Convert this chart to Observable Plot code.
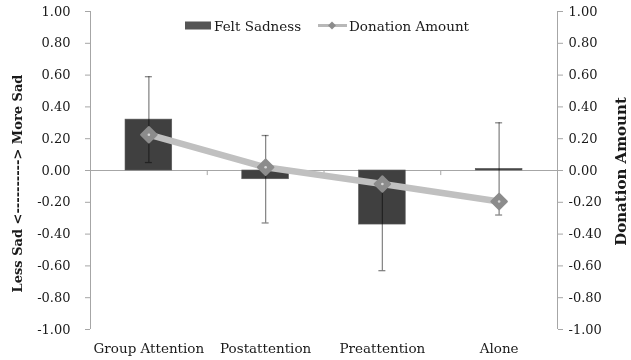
<!DOCTYPE html>
<html>
<head>
<meta charset="utf-8">
<script src="https://cdn.jsdelivr.net/npm/d3@7"></script>
<script src="https://cdn.jsdelivr.net/npm/@observablehq/plot@0.6"></script>
<style>
  html, body { margin: 0; padding: 0; background: #fff; }
  #wrap { position: relative; width: 631px; height: 360px; font-family: "DejaVu Serif", serif; }
  #legend { position: absolute; left: 0; top: 0; }
</style>
</head>
<body>
<div id="wrap"></div>
<script>
// ---- data ----
const categories = ["Group Attention", "Postattention", "Preattention", "Alone"];
const sadness    = [0.32, -0.055, -0.34, 0.01];
const sadLow     = [0.05, -0.33, -0.63, -0.28];
const sadHigh    = [0.59, 0.22, -0.05, 0.30];
const donation   = [0.225, 0.02, -0.085, -0.195];
const yTicks     = [-1, -0.8, -0.6, -0.4, -0.2, 0, 0.2, 0.4, 0.6, 0.8, 1];
const seriesNames = ["Felt Sadness", "Donation Amount"];
const leftTitle  = "Less Sad <----------> More Sad";
const rightTitle = "Donation Amount";

const rows = categories.map((c, i) => ({
  i, c, s: sadness[i], lo: sadLow[i], hi: sadHigh[i], d: donation[i]
}));
const boundaries = categories.slice(1).map((_, k) => k + 0.5);
const xDomain = [-0.5, categories.length - 0.5];

const barHalf = 0.2;
const capHalf = 0.03;
const axisGray = "#a6a6a6";
const textColor = "#1a1a1a";

const chart = Plot.plot({
  width: 631,
  height: 360,
  marginLeft: 90,
  marginRight: 74,
  marginTop: 11,
  marginBottom: 31,
  style: { fontFamily: "DejaVu Serif", fontSize: "13px", color: textColor, background: "white" },
  x: { type: "linear", domain: xDomain },
  y: { domain: [-1, 1] },
  marks: [
    Plot.ruleX(xDomain, { stroke: axisGray }),
    Plot.ruleY([0], { stroke: axisGray }),
    Plot.ruleX(boundaries, { y1: 0, y2: -0.032, stroke: axisGray }),
    Plot.axisY(yTicks, { anchor: "left", tickSize: 5, tickPadding: 15, tickFormat: d => d.toFixed(2), stroke: axisGray, color: textColor, label: null, fontSize: 13 }),
    Plot.axisY(yTicks, { anchor: "right", tickSize: 5, tickPadding: 6, tickFormat: d => d.toFixed(2), stroke: axisGray, color: textColor, label: null, fontSize: 13 }),
    Plot.axisX(categories.map((_, i) => i), { anchor: "bottom", tickSize: 0, tickPadding: 14, tickFormat: i => categories[i], color: textColor, label: null, fontSize: 13.5 }),
    Plot.rectY(rows, { x1: d => d.i - barHalf, x2: d => d.i + barHalf, y1: 0, y2: "s", fill: "#404040", stroke: "#5a5a5a", strokeWidth: 0.6 }),
    Plot.ruleX(rows, { x: "i", y1: "lo", y2: "hi", stroke: "#888", strokeWidth: 1.3, mixBlendMode: "multiply" }),
    Plot.ruleY(rows, { y: "lo", x1: d => d.i - capHalf, x2: d => d.i + capHalf, stroke: "#888", strokeWidth: 1.3, mixBlendMode: "multiply" }),
    Plot.ruleY(rows, { y: "hi", x1: d => d.i - capHalf, x2: d => d.i + capHalf, stroke: "#888", strokeWidth: 1.3, mixBlendMode: "multiply" }),
    Plot.line(rows, { x: "i", y: "d", stroke: "#c0c0c0", strokeWidth: 6.5 }),
    Plot.dot(rows, { x: "i", y: "d", symbol: "diamond2", r: 7, fill: "#8c8c8c", stroke: "#8c8c8c", strokeWidth: 2, strokeLinejoin: "round" }),
    Plot.dot(rows, { x: "i", y: "d", r: 1.3, fill: "#d8d8d8" }),
    Plot.text([leftTitle], { frameAnchor: "left", textAnchor: "middle", rotate: -90, dx: -73, dy: 13, fontWeight: "bold", fontSize: 13, fill: textColor }),
    Plot.text([rightTitle], { frameAnchor: "right", textAnchor: "middle", rotate: -90, dx: 64, dy: 1, fontWeight: "bold", fontSize: 15, fill: textColor })
  ]
});

const wrap = document.getElementById("wrap");
wrap.appendChild(chart);

// legend overlay
const leg = d3.select(wrap).append("svg")
  .attr("id", "legend").attr("width", 631).attr("height", 40)
  .style("font-family", "DejaVu Serif").style("font-size", "13.5px");
leg.append("rect").attr("x", 185).attr("y", 21.5).attr("width", 26).attr("height", 8).attr("fill", "#555");
leg.append("text").attr("x", 214).attr("y", 30.5).attr("fill", textColor).text(seriesNames[0]);
leg.append("line").attr("x1", 318).attr("x2", 347).attr("y1", 25.5).attr("y2", 25.5).attr("stroke", "#b8b8b8").attr("stroke-width", 3);
leg.append("path").attr("d", d3.symbol(d3.symbolDiamond2, 40)()).attr("transform", "translate(332,25.5)").attr("fill", "#8c8c8c");
leg.append("text").attr("x", 349).attr("y", 30.5).attr("fill", textColor).text(seriesNames[1]);
</script>
</body>
</html>
